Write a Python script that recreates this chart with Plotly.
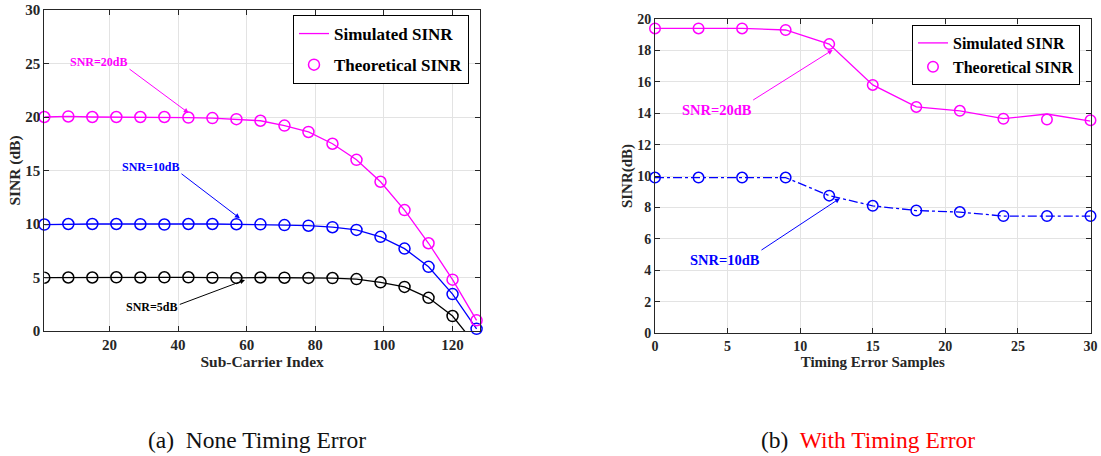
import plotly.graph_objects as go

# ---------------- data: (a) no timing error ----------------
sc_index = [1, 8, 15, 22, 29, 36, 43, 50, 57, 64, 71, 78, 85, 92, 99, 106, 113, 120, 127]
sim_a_20 = [20.0, 20.05, 20.0, 20.0, 20.0, 20.0, 19.95, 19.9, 19.8, 19.65, 19.2, 18.6, 17.5, 16.0, 13.95, 11.3, 8.2, 4.8, 1.0]
sim_a_10 = [9.95, 10.0, 10.0, 10.0, 9.98, 9.95, 10.0, 10.0, 9.98, 9.97, 9.9, 9.84, 9.7, 9.45, 8.8, 7.7, 6.0, 3.45, 0.2]
sim_a_5 = [4.98, 5.0, 5.0, 5.02, 5.0, 5.02, 5.02, 4.98, 4.96, 5.0, 4.98, 4.96, 4.95, 4.85, 4.55, 4.12, 3.1, 1.4, -1.4]
th_a_20 = sim_a_20
th_a_10 = sim_a_10
th_a_5 = sim_a_5

# ---------------- data: (b) with timing error ----------------
te_samples = [0, 3, 6, 9, 12, 15, 18, 21, 24, 27, 30]
sim_b_20 = [19.4, 19.4, 19.4, 19.3, 18.4, 15.8, 14.4, 14.15, 13.65, 13.95, 13.5]
th_b_20 = [19.4, 19.4, 19.4, 19.3, 18.4, 15.8, 14.4, 14.15, 13.65, 13.6, 13.55]
sim_b_10 = [9.9, 9.9, 9.9, 9.9, 8.75, 8.1, 7.8, 7.7, 7.45, 7.45, 7.45]
th_b_10 = [9.9, 9.9, 9.9, 9.9, 8.75, 8.1, 7.8, 7.7, 7.45, 7.45, 7.45]

x_ticks_a = [20, 40, 60, 80, 100, 120]
y_ticks_a = [0, 5, 10, 15, 20, 25, 30]
x_ticks_b = [0, 5, 10, 15, 20, 25, 30]
y_ticks_b = [0, 2, 4, 6, 8, 10, 12, 14, 16, 18, 20]

MAG = "#ff00ff"
BLU = "#0000ff"
BLK = "#000000"
FONT = "Liberation Serif"
AX = "#262626"

W, H = 1101, 456

def px_x(px):
    return px / W

def px_y(py):
    return (H - py) / H

fig = go.Figure()

def add_pair(x, ysim, yth, color, xa, ya, dash="solid", legend=None, msize=11, clip=False):
    fig.add_trace(go.Scatter(x=x, y=ysim, mode="lines", line=dict(color=color, width=1.3, dash=dash),
                             xaxis=xa, yaxis=ya, name="Simulated SINR",
                             showlegend=legend is not None, legend=legend or "legend",
                             legendgroup=(legend or "") + "sim"))
    fig.add_trace(go.Scatter(x=x, y=yth, mode="markers",
                             marker=dict(symbol="circle-open", size=msize, color=color, line=dict(width=1.5)),
                             xaxis=xa, yaxis=ya, name="Theoretical SINR", cliponaxis=clip,
                             showlegend=legend is not None, legend=legend or "legend",
                             legendgroup=(legend or "") + "th"))

add_pair(sc_index, sim_a_5, th_a_5, BLK, "x", "y", clip=True)
add_pair(sc_index, sim_a_10, th_a_10, BLU, "x", "y")
add_pair(sc_index, sim_a_20, th_a_20, MAG, "x", "y", legend="legend")
add_pair(te_samples, sim_b_10, th_b_10, BLU, "x2", "y2", dash="dashdot", msize=10.5)
add_pair(te_samples, sim_b_20, th_b_20, MAG, "x2", "y2", legend="legend2", msize=10.5)

def ax_common(size):
    return dict(showline=True, linecolor=AX, linewidth=1, mirror="ticks", ticks="inside", ticklen=5,
                tickcolor=AX, showgrid=True, gridcolor="#e3e3e3", gridwidth=1, zeroline=False,
                automargin=False, ticklabeloverflow="allow",
                tickfont=dict(family=FONT, size=size, color=AX, weight="bold"))

xa = ax_common(15)
xa.update(domain=[px_x(44.3), px_x(480)], range=[1, 128], tickvals=x_ticks_a, anchor="y",
          title=dict(text="<b>Sub-Carrier Index</b>", font=dict(family=FONT, size=15.5, color=AX), standoff=4))
ya = ax_common(15)
ya.update(domain=[px_y(331), px_y(10)], range=[0, 30], tickvals=y_ticks_a, anchor="x",
          title=dict(text="<b>SINR (dB)</b>", font=dict(family=FONT, size=15.5, color=AX), standoff=0))
xb = ax_common(14)
xb.update(domain=[px_x(655), px_x(1090.5)], range=[0, 30], tickvals=x_ticks_b, anchor="y2",
          title=dict(text="<b>Timing Error Samples</b>", font=dict(family=FONT, size=15, color=AX), standoff=2))
yb = ax_common(14)
yb.update(domain=[px_y(333), px_y(19)], range=[0, 20], tickvals=y_ticks_b, anchor="x2",
          title=dict(text="<b>SINR(dB)</b>", font=dict(family=FONT, size=15, color=AX), standoff=0))

ann = []
def arrow(x, y, ax_, ay_, color, xref, yref):
    ann.append(dict(x=x, y=y, ax=ax_, ay=ay_, xref=xref, yref=yref, axref=xref, ayref=yref, text="",
                    showarrow=True, arrowhead=2, arrowsize=1, arrowwidth=1, arrowcolor=color))

def label(x, y, t, color, xref, yref, size):
    ann.append(dict(x=x, y=y, xref=xref, yref=yref, text="<b>" + t + "</b>", showarrow=False,
                    xanchor="center", yanchor="middle",
                    font=dict(family=FONT, size=size, color=color)))

label(16.9, 25.17, "SNR=20dB", MAG, "x", "y", 12)
arrow(43.1, 20.37, 25.4, 24.58, MAG, "x", "y")
label(32.0, 15.36, "SNR=10dB", BLU, "x", "y", 12)
arrow(58.0, 10.53, 40.55, 14.8, BLU, "x", "y")
label(32.3, 2.27, "SNR=5dB", BLK, "x", "y", 12)
arrow(59.5, 4.77, 40.05, 2.43, BLK, "x", "y")

label(4.27, 14.2, "SNR=20dB", MAG, "x2", "y2", 14.5)
arrow(12.24, 18.03, 6.66, 14.78, MAG, "x2", "y2")
label(4.82, 4.65, "SNR=10dB", BLU, "x2", "y2", 14.5)
arrow(12.74, 8.58, 7.23, 5.22, BLU, "x2", "y2")

ann.append(dict(x=px_x(257), y=px_y(440), xref="paper", yref="paper", showarrow=False,
                xanchor="center", yanchor="middle",
                text="(a)&nbsp; None Timing Error", font=dict(family=FONT, size=23.5, color="#111111")))
ann.append(dict(x=px_x(868), y=px_y(440), xref="paper", yref="paper", showarrow=False,
                xanchor="center", yanchor="middle",
                text="(b)&nbsp; <span style='color:#ff0000'>With Timing Error</span>",
                font=dict(family=FONT, size=23.5, color="#111111")))

fig.update_layout(
    width=W, height=H, margin=dict(l=0, r=0, t=0, b=0),
    paper_bgcolor="white", plot_bgcolor="white",
    xaxis=xa, yaxis=ya, xaxis2=xb, yaxis2=yb,
    annotations=ann,
    legend=dict(x=px_x(469), y=px_y(15), xanchor="right", yanchor="top",
                bordercolor=BLK, borderwidth=1, bgcolor="white", tracegroupgap=6,
                font=dict(family=FONT, size=17, color=BLK, weight="bold")),
    legend2=dict(x=px_x(1080), y=px_y(25), xanchor="right", yanchor="top",
                 bordercolor=BLK, borderwidth=1, bgcolor="white", tracegroupgap=0,
                 font=dict(family=FONT, size=16, color=BLK, weight="bold")),
)

# remove the browser's default 8 px body margin so the figure fills the window exactly
fig.write_html("out.html", config={"displayModeBar": False},
               post_script="document.body.style.margin='0';document.body.style.overflow='hidden';")
